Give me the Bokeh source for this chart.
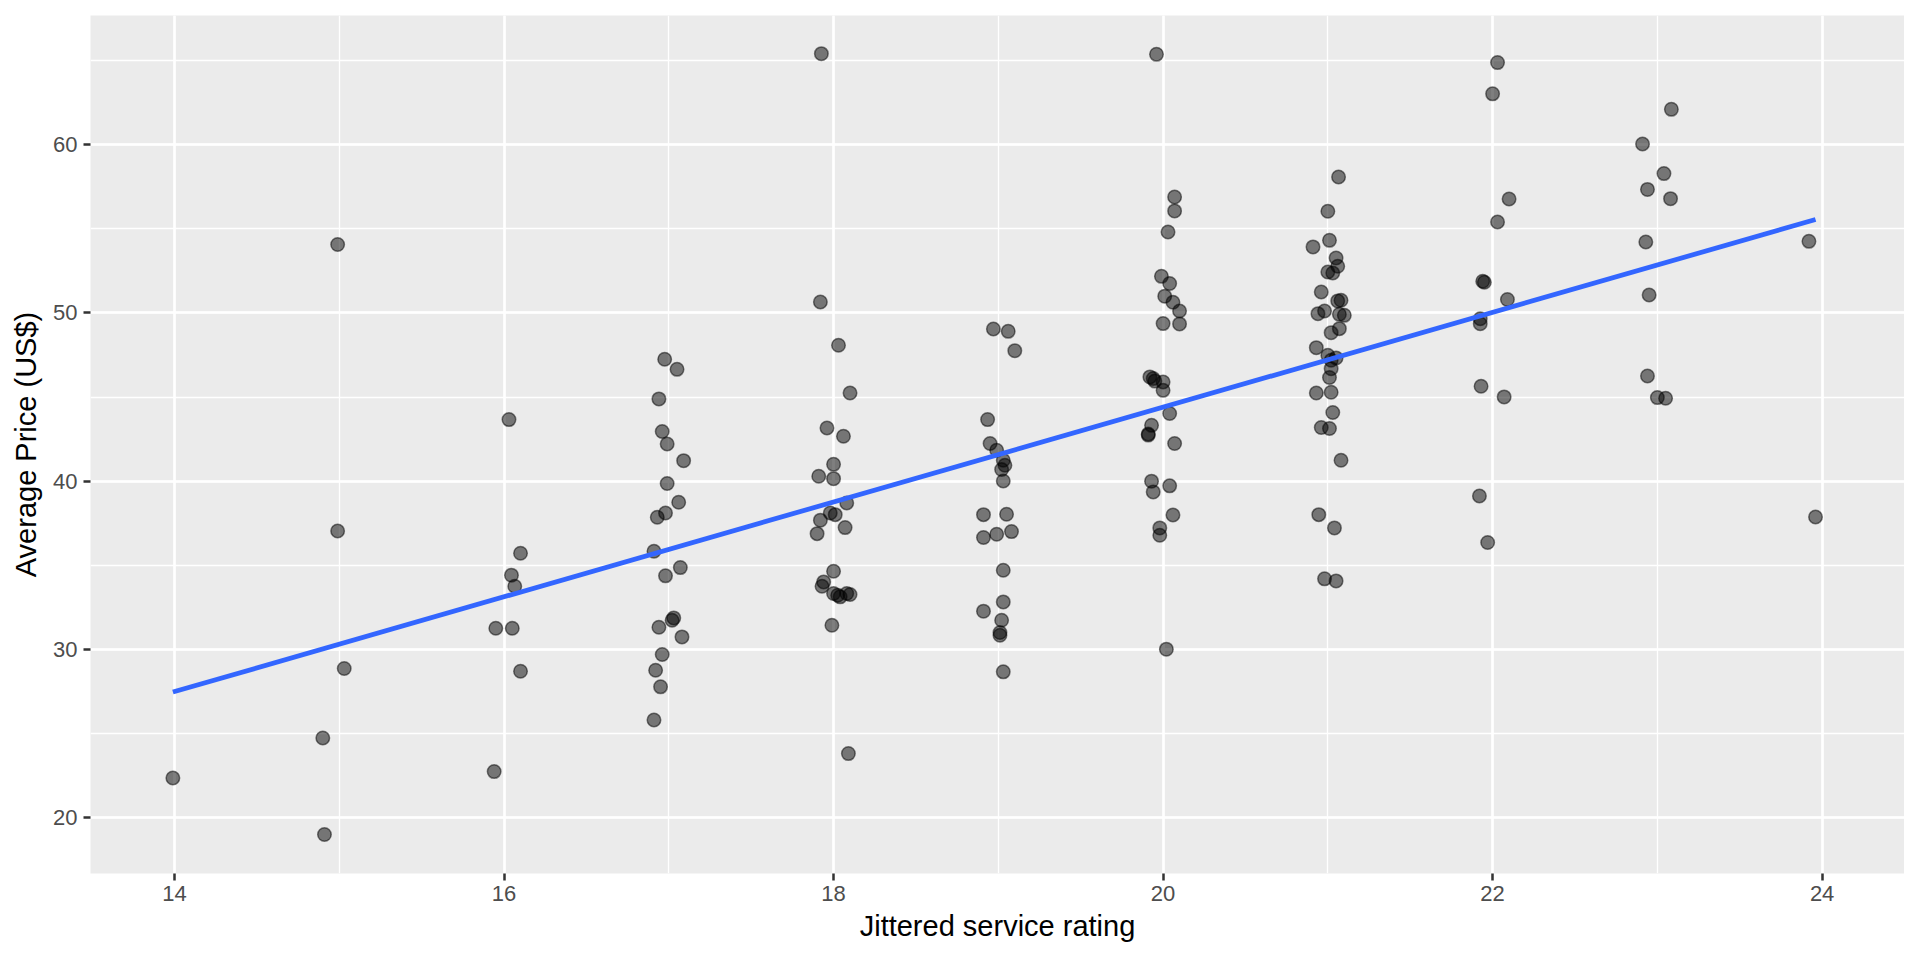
from bokeh.plotting import figure
from bokeh.models import Range1d, SingleIntervalTicker, ColumnDataSource
from bokeh.embed import file_html
from bokeh.resources import INLINE

# Jittered service rating (x) and average price (y)
service = [
    13.99,
    14.99, 14.99, 15.03, 14.90, 14.91,
    16.03, 16.10, 16.045, 16.065, 15.95, 16.05, 16.10, 15.94,
    16.975, 17.05, 16.94, 16.96, 16.99, 17.09, 16.99, 17.06, 16.98, 16.93, 16.91,
    17.07, 16.98, 17.03, 17.02, 16.94, 17.08, 16.96, 16.92, 16.95, 16.91,
    17.926, 17.92, 18.03, 18.10, 17.96, 18.06, 18.00, 17.91, 18.00, 18.08, 17.98,
    18.01, 17.92, 18.07, 17.90, 18.00, 17.94, 17.93, 18.00, 18.025, 18.04, 18.08,
    18.10, 17.99, 18.09,
    18.97, 19.06, 19.10, 18.935, 18.95, 18.99, 19.03, 19.04, 19.02, 19.03, 18.91,
    19.05, 18.91, 18.99, 19.08, 19.03, 19.03, 18.91, 19.02, 19.01, 19.01, 19.03,
    19.96, 20.07, 20.07, 20.03, 19.99, 20.04, 20.01, 20.06, 20.10, 20.00, 20.10,
    19.92, 19.94, 19.95, 20.00, 20.00, 20.04, 19.93, 19.91, 19.91, 20.07, 19.93,
    19.94, 20.04, 20.06, 19.98, 19.98, 20.02,
    21.065, 21.00, 21.01, 20.91, 21.05, 21.06, 21.00, 21.03, 20.96, 21.06, 21.08,
    20.94, 20.98, 21.07, 21.10, 21.02, 21.07, 20.93, 21.00, 21.05, 21.02, 21.02,
    21.01, 20.93, 21.02, 21.03, 20.96, 21.01, 21.08, 20.945, 21.04, 20.98, 21.05,
    22.03, 22.00, 22.10, 22.03, 21.94, 21.95, 22.09, 21.925, 21.925, 21.93, 22.07,
    21.92, 21.97,
    23.085, 22.91, 23.04, 22.94, 23.08, 22.93, 22.95, 22.94, 23.00, 23.05,
    23.92, 23.96,
]
price = [
    22.35,
    54.07, 37.04, 28.86, 24.73, 18.99,
    43.66, 35.71, 34.41, 33.75, 31.25, 31.25, 28.70, 22.73,
    47.25, 46.65, 44.89, 42.95, 42.21, 41.22, 39.86, 38.75, 38.11, 37.85, 35.83,
    34.86, 34.37, 31.87, 31.73, 31.31, 30.74, 29.69, 28.76, 27.77, 25.80,
    65.42, 50.65, 48.08, 45.24, 43.16, 42.67, 41.00, 40.29, 40.15, 38.70, 38.11,
    38.01, 37.68, 37.24, 36.88, 34.64, 34.01, 33.75, 33.32, 33.22, 33.12, 33.32,
    33.26, 31.43, 23.80,
    49.05, 48.91, 47.76, 43.66, 42.24, 41.84, 41.24, 40.95, 40.69, 40.01, 38.01,
    38.03, 36.65, 36.84, 37.00, 34.70, 32.82, 32.27, 31.73, 31.00, 30.84, 28.66,
    65.38, 56.90, 56.07, 54.82, 52.18, 51.75, 51.00, 50.64, 50.12, 49.37, 49.35,
    46.20, 46.10, 45.95, 45.90, 45.40, 44.02, 43.32, 42.80, 42.74, 42.24, 40.00,
    39.36, 39.72, 37.99, 37.22, 36.78, 30.01,
    58.09, 56.05, 54.32, 53.93, 53.27, 52.78, 52.44, 52.38, 51.25, 50.72, 50.76,
    49.96, 50.12, 49.92, 49.86, 48.83, 49.07, 47.94, 47.49, 47.33, 47.19, 46.69,
    46.16, 45.24, 45.29, 44.08, 43.19, 43.13, 41.24, 38.01, 37.22, 34.19, 34.07,
    64.89, 63.03, 56.78, 55.41, 51.89, 51.83, 50.80, 49.66, 49.36, 45.64, 45.01,
    39.12, 36.35,
    62.11, 60.05, 58.29, 57.35, 56.80, 54.22, 51.07, 46.25, 44.97, 44.93,
    54.26, 37.87,
]

# Linear trend line endpoints
fit_x = [13.99, 23.96]
fit_y = [27.46, 55.56]

FONT = "Liberation Sans"

p = figure(
    frame_width=1814, frame_height=858,
    min_border_left=90, min_border_top=15, min_border_right=0, min_border_bottom=71,
    x_range=Range1d(13.49, 24.50), y_range=Range1d(16.67, 67.69),
    output_backend="svg", toolbar_location=None,
    background_fill_color="#EBEBEB", border_fill_color="white",
)
p.outline_line_color = None

p.xaxis.ticker = SingleIntervalTicker(interval=2, num_minor_ticks=2)
p.yaxis.ticker = SingleIntervalTicker(interval=10, num_minor_ticks=2)
p.xgrid.ticker = p.xaxis.ticker
p.ygrid.ticker = p.yaxis.ticker

for g in (p.xgrid, p.ygrid):
    g.grid_line_color = "white"
    g.grid_line_width = 2.6
    g.minor_grid_line_color = "white"
    g.minor_grid_line_width = 1.3

for ax in (p.xaxis, p.yaxis):
    ax.axis_line_color = None
    ax.major_tick_in = 0
    ax.major_tick_out = 7
    ax.major_tick_line_color = "#333333"
    ax.major_tick_line_width = 2.5
    ax.minor_tick_in = 0
    ax.minor_tick_out = 0
    ax.minor_tick_line_color = None
    ax.major_label_text_font = FONT
    ax.major_label_text_font_size = "22px"
    ax.major_label_text_color = "#4D4D4D"
    ax.axis_label_text_font = FONT
    ax.axis_label_text_font_size = "29px"
    ax.axis_label_text_color = "black"
    ax.axis_label_text_font_style = "normal"

p.xaxis.major_label_standoff = 5
p.yaxis.major_label_standoff = 6
p.xaxis.axis_label_standoff = 6
p.yaxis.axis_label_standoff = 8
p.xaxis.axis_label = "Jittered service rating"
p.yaxis.axis_label = "Average Price (US$)"

src = ColumnDataSource(data=dict(x=service, y=price))
p.scatter("x", "y", source=src, size=13.5, marker="circle",
          fill_color="black", fill_alpha=0.5,
          line_color="black", line_alpha=0.5, line_width=1.5)

p.line(fit_x, fit_y, line_color="#3366FF", line_width=4.8)

open("out.html", "w").write(file_html(p, INLINE))
